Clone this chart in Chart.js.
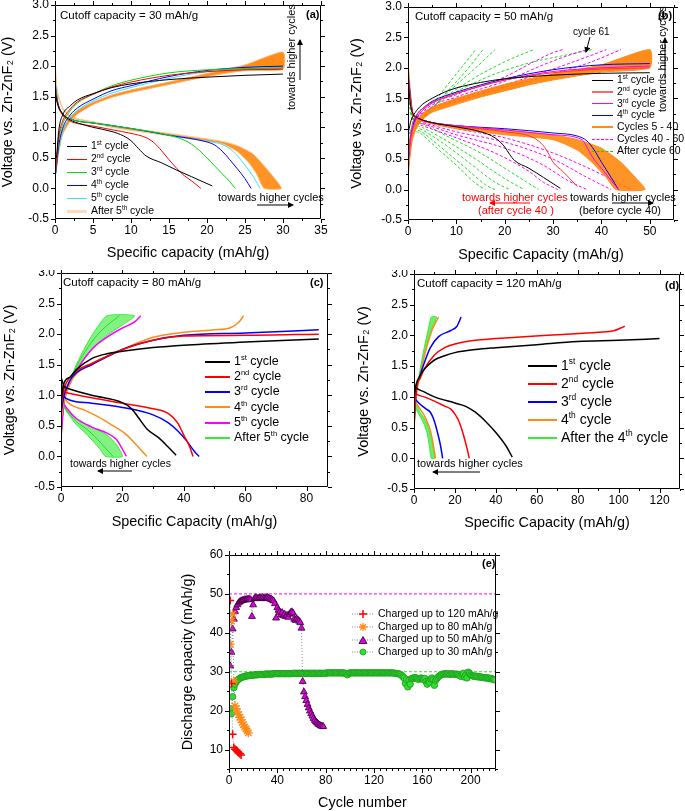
<!DOCTYPE html>
<html>
<head>
<meta charset="utf-8">
<script src="https://cdn.jsdelivr.net/npm/chart.js@4.4.1/dist/chart.umd.min.js"></script>
<style>
  body { margin: 0; background: #fff; font-family: "Liberation Sans", Arial, sans-serif; }
  #wrap { position: relative; width: 685px; height: 811px; overflow: hidden; }
  canvas { position: absolute; }
  .t { position: absolute; white-space: nowrap; font-size: 11px; line-height: 12px; color: #000; }
  .b { font-weight: bold; }
  .rot { transform: rotate(-90deg); transform-origin: center center; text-align: center; }
  .lg { position: absolute; white-space: nowrap; color: #000; }
  .lg div { display: block; }
  .lg i { display: inline-block; height: 0; margin-right: 4px; vertical-align: middle; }
  .lg svg { position: static; margin-right: 4px; vertical-align: middle; }
  sup { font-size: 0.6em; line-height: 0; vertical-align: 0.7em; }
  svg.arrows { position: absolute; left: 0; top: 0; }
</style>
</head>
<body>
<div id="wrap">
  <canvas id="ca" width="340" height="270" style="left:0;top:0"></canvas>
  <canvas id="cb" width="345" height="270" style="left:340px;top:0"></canvas>
  <canvas id="cc" width="340" height="270" style="left:0;top:270px"></canvas>
  <canvas id="cd" width="345" height="270" style="left:340px;top:270px"></canvas>
  <canvas id="ce" width="330" height="271" style="left:180px;top:540px"></canvas>

  <!-- panel (a) texts -->
  <div class="t" style="left:60px;top:9px;font-size:11.5px">Cutoff capacity = 30 mAh/g</div>
  <div class="t b" style="left:306px;top:8px">(a)</div>
  <div class="t" style="left:218px;top:191px">towards higher cycles</div>
  <div class="t rot" style="left:241px;top:54px;width:100px">towards higher cycles</div>
  <div class="lg" style="left:67px;top:139px;font-size:10.5px;line-height:13px">
    <div><i style="width:20px;border-top:1px solid #000"></i>1<sup>st</sup> cycle</div>
    <div><i style="width:20px;border-top:1px solid #ff0000"></i>2<sup>nd</sup> cycle</div>
    <div><i style="width:20px;border-top:1px solid #00dd00"></i>3<sup>rd</sup> cycle</div>
    <div><i style="width:20px;border-top:1px solid #0000ff"></i>4<sup>th</sup> cycle</div>
    <div><i style="width:20px;border-top:1px solid #33e6ff"></i>5<sup>th</sup> cycle</div>
    <div><i style="width:20px;border-top:3px solid #ffd9b8"></i>After 5<sup>th</sup> cycle</div>
  </div>

  <!-- panel (b) texts -->
  <div class="t" style="left:415px;top:10px;font-size:11.5px">Cutoff capacity = 50 mAh/g</div>
  <div class="t b" style="left:658px;top:9px">(b)</div>
  <div class="t" style="left:573px;top:26px;font-size:10px">cycle 61</div>
  <div class="t rot" style="left:612px;top:56px;width:100px">towards higher cycles</div>
  <div class="t" style="left:462px;top:191px;color:#ff0000">towards higher cycles</div>
  <div class="t" style="left:478px;top:204px;color:#ff0000">(after cycle 40 )</div>
  <div class="t" style="left:570px;top:191px">towards higher cycles</div>
  <div class="t" style="left:579px;top:204px">(before cycle 40)</div>
  <div class="lg" style="left:592px;top:74px;font-size:10.5px;line-height:11.8px">
    <div><i style="width:21px;border-top:1px solid #000"></i>1<sup>st</sup> cycle</div>
    <div><i style="width:21px;border-top:2px solid #ff6666"></i>2<sup>nd</sup> cycle</div>
    <div><i style="width:21px;border-top:1px solid #ff00ff"></i>3<sup>rd</sup> cycle</div>
    <div><i style="width:21px;border-top:1px solid #0000ff"></i>4<sup>th</sup> cycle</div>
    <div><i style="width:21px;border-top:2px solid #ff8c1a"></i>Cycles 5 - 40</div>
    <div><i style="width:21px;border-top:1px dashed #ff00ff"></i>Cycles 40 - 60</div>
    <div><i style="width:21px;border-top:1px dashed #00dd00"></i>After cycle 60</div>
  </div>

  <!-- panel (c) texts -->
  <div class="t" style="left:63px;top:276px;font-size:11.5px">Cutoff capacity = 80 mAh/g</div>
  <div class="t b" style="left:310px;top:276px">(c)</div>
  <div class="t" style="left:70px;top:457px;font-size:10.5px">towards higher cycles</div>
  <div class="lg" style="left:205px;top:354px;font-size:12.5px;line-height:15.2px">
    <div><i style="width:25px;border-top:2px solid #000"></i>1<sup>st</sup> cycle</div>
    <div><i style="width:25px;border-top:2px solid #ff0000"></i>2<sup>nd</sup> cycle</div>
    <div><i style="width:25px;border-top:2px solid #0000ff"></i>3<sup>rd</sup> cycle</div>
    <div><i style="width:25px;border-top:2px solid #ff8c1a"></i>4<sup>th</sup> cycle</div>
    <div><i style="width:25px;border-top:2px solid #ff00ff"></i>5<sup>th</sup> cycle</div>
    <div><i style="width:25px;border-top:2px solid #33ee33"></i>After 5<sup>th</sup> cycle</div>
  </div>

  <!-- panel (d) texts -->
  <div class="t" style="left:417px;top:277px;font-size:11.5px">Cutoff capacity = 120 mAh/g</div>
  <div class="t b" style="left:665px;top:279px">(d)</div>
  <div class="t" style="left:417px;top:457px">towards higher cycles</div>
  <div class="lg" style="left:528px;top:356px;font-size:14px;line-height:18px">
    <div><i style="width:29px;border-top:2px solid #000"></i>1<sup>st</sup> cycle</div>
    <div><i style="width:29px;border-top:2px solid #ff0000"></i>2<sup>nd</sup> cycle</div>
    <div><i style="width:29px;border-top:2px solid #0000ff"></i>3<sup>rd</sup> cycle</div>
    <div><i style="width:29px;border-top:2px solid #ff8c1a"></i>4<sup>th</sup> cycle</div>
    <div><i style="width:29px;border-top:2px solid #33ee33"></i>After the 4<sup>th</sup> cycle</div>
  </div>

  <!-- panel (e) texts -->
  <div class="t b" style="left:482px;top:557px">(e)</div>
  <div class="lg" style="left:352px;top:607px;font-size:10.5px;line-height:12.7px">
    <div><svg width="22" height="10"><line x1="0" y1="5" x2="22" y2="5" stroke="#888" stroke-dasharray="1,1.5"/><path d="M7 5h8M11 1v8" stroke="#ff0000" stroke-width="1.5"/></svg>Charged up to 120 mAh/g</div>
    <div><svg width="22" height="10"><line x1="0" y1="5" x2="22" y2="5" stroke="#888" stroke-dasharray="1,1.5"/><path d="M7 5h8M11 1v8M8 2l6 6M14 2l-6 6" stroke="#ff8c1a" stroke-width="1.3"/></svg>Charged up to 80 mAh/g</div>
    <div><svg width="22" height="10"><line x1="0" y1="5" x2="22" y2="5" stroke="#888" stroke-dasharray="1,1.5"/><path d="M11 1.5l4 7h-8z" fill="#e000e0" stroke="#220022" stroke-width="0.8"/></svg>Charged up to 50 mAh/g</div>
    <div><svg width="22" height="10"><line x1="0" y1="5" x2="22" y2="5" stroke="#888" stroke-dasharray="1,1.5"/><circle cx="11" cy="5" r="3" fill="#33dd33" stroke="#1a9a1a" stroke-width="0.8"/></svg>Charged up to 30 mAh/g</div>
  </div>

  <!-- annotation arrows -->
  <svg class="arrows" width="685" height="811">
    <defs>
      <marker id="ak" markerWidth="6" markerHeight="6" refX="5" refY="3" orient="auto" markerUnits="userSpaceOnUse"><path d="M0,0 L6,3 L0,6 z" fill="#000"/></marker>
      <marker id="ar" markerWidth="6" markerHeight="6" refX="5" refY="3" orient="auto" markerUnits="userSpaceOnUse"><path d="M0,0 L6,3 L0,6 z" fill="#ff0000"/></marker>
    </defs>
    <g stroke-width="1">
      <line x1="257" y1="205" x2="293" y2="205" stroke="#000" marker-end="url(#ak)"/>
      <line x1="300" y1="80" x2="300" y2="40" stroke="#000" marker-end="url(#ak)"/>
      <line x1="590" y1="37" x2="586" y2="52" stroke="#000" marker-end="url(#ak)"/>
      <line x1="665" y1="78" x2="665" y2="38" stroke="#000" marker-end="url(#ak)"/>
      <line x1="530" y1="203" x2="490" y2="203" stroke="#ff0000" marker-end="url(#ar)"/>
      <line x1="612" y1="203" x2="653" y2="203" stroke="#000" marker-end="url(#ak)"/>
      <line x1="132" y1="471" x2="98" y2="471" stroke="#000" marker-end="url(#ak)"/>
      <line x1="480" y1="472" x2="433" y2="472" stroke="#000" marker-end="url(#ak)"/>
    </g>
  </svg>
</div>

<script>
// ---- panel (a): cutoff 30 mAh/g, [capacity, voltage] ----
const aCharge1 = [[0.2,0.5],[0.5,0.95],[1,1.2],[2,1.35],[3,1.45],[5,1.55],[7.5,1.65],[10,1.71],[15,1.78],[20,1.82],[25,1.85],[30,1.87]];
const aCharge2 = [[0.1,0.3],[0.5,0.85],[1,1.1],[2,1.3],[3,1.42],[5,1.54],[7.5,1.66],[10,1.74],[15,1.85],[20,1.91],[25,1.94],[30,1.95]];
const aCharge3 = [[0.1,0.3],[0.5,0.8],[1,1.05],[2,1.27],[3,1.4],[5,1.54],[7.5,1.68],[10,1.77],[15,1.89],[20,1.94],[25,1.96],[30,1.97]];
const aCharge4 = [[0.1,0.25],[0.5,0.7],[1,0.98],[2,1.2],[3,1.32],[5,1.46],[7.5,1.6],[10,1.68],[15,1.83],[20,1.93],[25,1.98],[30,2.0]];
const aCharge5 = [[0.1,0.25],[0.5,0.65],[1,0.92],[2,1.15],[3,1.28],[5,1.43],[7.5,1.56],[10,1.65],[15,1.8],[20,1.91],[25,1.97],[30,1.99]];
const aChargeBandLow = [[0,0.15],[0.5,0.6],[1,0.88],[2,1.1],[3,1.22],[5,1.37],[7.5,1.49],[10,1.57],[15,1.7],[20,1.83],[25,1.93],[30,1.95]];
const aChargeBandHigh = [[0,0.3],[0.5,0.75],[1,0.98],[2,1.17],[3,1.28],[5,1.41],[7.5,1.53],[10,1.61],[15,1.74],[20,1.88],[25,2.02],[30,2.23]];
const aDis1 = [[0,1.6],[0.3,1.4],[1,1.22],[2,1.12],[3,1.07],[5,1.0],[7.5,0.93],[9,0.86],[10,0.78],[11,0.65],[12,0.53],[14,0.42],[16,0.3],[18,0.19],[20.7,0.04]];
const aDis2 = [[0,1.65],[0.3,1.4],[1,1.2],[2,1.1],[3,1.06],[5,1.02],[7.5,0.96],[10,0.9],[12,0.83],[13,0.75],[14,0.62],[15,0.47],[16,0.33],[17,0.21],[18,0.12],[19.2,0.0]];
const aDis3 = [[0,1.7],[0.3,1.42],[1,1.22],[2,1.14],[3,1.1],[5,1.07],[10,0.98],[15,0.87],[17,0.79],[18,0.72],[19,0.62],[20,0.5],[21,0.37],[22,0.24],[23,0.11],[23.7,0.0]];
const aDis4 = [[0,1.75],[0.3,1.45],[1,1.22],[2,1.14],[3,1.1],[5,1.07],[10,0.98],[15,0.87],[20,0.76],[21,0.71],[22,0.61],[23,0.47],[24,0.32],[25,0.16],[25.8,0.0]];
const aDis5 = [[0,1.8],[0.3,1.45],[1,1.22],[2,1.14],[3,1.1],[5,1.07],[10,0.98],[15,0.87],[20,0.77],[22,0.72],[23.5,0.6],[24.5,0.46],[25.5,0.3],[26.3,0.15],[27,0.0]];
const aDisBandLow = [[0,1.95],[0.3,1.55],[1,1.3],[2,1.17],[3,1.12],[5,1.07],[7.5,1.0],[10,0.95],[15,0.86],[20,0.77],[22,0.73],[24,0.6],[25.5,0.42],[26.5,0.24],[27.5,0.0]];
const aDisBandHigh = [[0,2.12],[0.3,1.6],[1,1.32],[2,1.19],[3,1.14],[5,1.09],[7.5,1.03],[10,0.98],[15,0.9],[20,0.81],[22,0.77],[24,0.7],[26,0.57],[28,0.3],[29.8,0.0]];

// ---- panel (b): cutoff 50 mAh/g ----
const bCharge1 = [[0,0.9],[0.5,1.1],[1,1.2],[2,1.32],[3,1.4],[5,1.5],[7.5,1.6],[10,1.67],[15,1.76],[20,1.82],[30,1.88],[40,1.91],[50,1.92]];
const bCharge2 = [[0,0.5],[0.5,0.9],[1,1.1],[2,1.25],[3,1.33],[5,1.43],[10,1.58],[15,1.7],[20,1.8],[30,1.92],[40,1.98],[50,2.0]];
const bCharge3 = [[0,0.4],[0.5,0.8],[1,1.0],[2,1.2],[3,1.3],[5,1.42],[10,1.58],[15,1.7],[20,1.8],[30,1.94],[40,2.0],[50,2.03]];
const bCharge4 = [[0,0.4],[0.5,0.85],[1,1.05],[2,1.25],[3,1.33],[5,1.45],[10,1.6],[15,1.72],[20,1.82],[30,1.97],[40,2.05],[50,2.07]];
const bDis1 = [[0,1.8],[0.5,1.4],[1,1.25],[2,1.18],[5,1.1],[10,1.03],[15,0.95],[18,0.85],[20,0.7],[21,0.58],[22,0.48],[25,0.35],[28,0.2],[31.5,0.02]];
const bDis2 = [[0,1.8],[1,1.25],[2,1.17],[5,1.1],[10,1.04],[20,0.95],[26,0.85],[28,0.72],[29,0.6],[30,0.45],[32,0.3],[35,0.05]];
const bDis3 = [[0,1.85],[1,1.25],[2,1.17],[5,1.1],[10,1.05],[20,0.98],[30,0.9],[36,0.82],[37,0.7],[38,0.55],[40,0.35],[42,0.15],[43.5,0.0]];
const bDis4 = [[0,1.9],[1,1.25],[2,1.17],[5,1.1],[10,1.05],[20,1.0],[30,0.93],[35,0.88],[37,0.8],[38.5,0.65],[40,0.45],[42,0.2],[43.5,0.0]];
const bChargeBandLow = [[0,0.2],[0.5,0.6],[1,0.85],[2,1.05],[3,1.15],[5,1.27],[10,1.4],[15,1.52],[20,1.62],[25,1.72],[30,1.8],[40,1.93],[50,2.0]];
const bChargeBandHigh = [[0,0.3],[0.5,0.8],[1,1.0],[2,1.15],[3,1.25],[5,1.35],[10,1.5],[15,1.62],[20,1.73],[25,1.82],[30,1.9],[40,2.05],[50,2.3]];
const bDisBandLow = [[0,1.7],[1,1.22],[2,1.15],[5,1.08],[10,1.0],[20,0.9],[30,0.82],[35,0.65],[38,0.45],[41,0.2],[43,0.0]];
const bDisBandHigh = [[0,2.1],[1,1.25],[2,1.17],[5,1.1],[10,1.05],[20,0.98],[30,0.9],[35,0.82],[40,0.68],[44,0.45],[47,0.2],[49,0.0]];
const bMagentaCharge = [
  [[0,0.3],[1,1.0],[3,1.25],[10,1.45],[20,1.68],[30,1.9],[38,2.1],[44,2.3]],
  [[0,0.3],[1,1.0],[3,1.25],[10,1.48],[20,1.72],[30,1.98],[36,2.15],[41,2.3]],
  [[0,0.3],[1,1.0],[3,1.27],[10,1.52],[20,1.78],[28,2.05],[33,2.2],[37,2.3]],
  [[0,0.3],[1,1.0],[3,1.3],[10,1.56],[20,1.85],[26,2.1],[30,2.25],[32,2.3]]
];
const bMagentaDis = [
  [[0,1.9],[1,1.25],[3,1.12],[10,1.0],[20,0.85],[30,0.6],[40,0.25],[46,0.0]],
  [[0,1.9],[1,1.22],[3,1.1],[10,0.95],[20,0.78],[30,0.5],[37,0.2],[42,0.0]],
  [[0,1.9],[1,1.2],[3,1.08],[10,0.9],[20,0.68],[28,0.4],[33,0.15],[37,0.0]],
  [[0,1.9],[1,1.2],[3,1.05],[10,0.85],[18,0.6],[25,0.3],[28,0.12],[31,0.0]]
];
const bGreenCharge = [
  [[0,0.9],[1,1.02],[5,1.35],[15,1.8],[25,2.08],[32,2.2],[38,2.3]],
  [[0,0.9],[1,1.0],[4,1.28],[12,1.75],[20,2.1],[26,2.3]],
  [[0,0.9],[1,1.0],[3,1.18],[9,1.65],[14,2.0],[18,2.3]],
  [[0,0.9],[1,1.0],[3,1.15],[8,1.6],[12,1.95],[15.5,2.3]],
  [[0,0.9],[1,1.0],[3,1.15],[7,1.6],[11,2.0],[14,2.3]]
];
const bGreenDis = [
  [[0,1.6],[1,1.18],[3,1.08],[8,0.88],[15,0.6],[21,0.3],[27,0.0]],
  [[0,1.6],[1,1.15],[3,1.02],[8,0.8],[14,0.5],[20,0.18],[24,0.0]],
  [[0,1.6],[1,1.12],[3,0.98],[8,0.72],[13,0.42],[18,0.12],[21,0.0]],
  [[0,1.6],[1,1.1],[3,0.94],[7,0.68],[12,0.35],[16,0.08],[18,0.0]],
  [[0,1.6],[1,1.08],[3,0.9],[6,0.68],[10,0.4],[14,0.1],[16,0.0]]
];

// ---- panel (c): cutoff 80 mAh/g ----
const cCharge1 = [[0,0.9],[1,1.2],[3,1.3],[5,1.42],[10,1.6],[15,1.68],[20,1.72],[30,1.78],[40,1.82],[60,1.87],[84,1.92]];
const cCharge2 = [[0,0.8],[1,1.1],[3,1.3],[5,1.4],[10,1.52],[20,1.75],[30,1.9],[40,1.97],[60,1.98],[84,2.0]];
const cCharge3 = [[0,0.7],[1,1.0],[3,1.25],[5,1.37],[10,1.5],[20,1.75],[30,1.9],[40,1.98],[60,2.02],[84,2.07]];
const cCharge4 = [[0,0.6],[1,0.9],[3,1.2],[5,1.35],[10,1.5],[20,1.75],[30,1.95],[40,2.03],[50,2.07],[55,2.1],[58,2.2],[59.5,2.3]];
const cCharge5 = [[0,0.3],[1,0.9],[3,1.2],[5,1.4],[10,1.75],[15,1.95],[20,2.1],[24,2.2],[26,2.3]];
const cDis1 = [[0,1.3],[1,1.15],[3,1.1],[10,1.0],[20,0.88],[23,0.78],[25,0.65],[28,0.45],[32,0.3],[35,0.15],[37.5,0.02]];
const cDis2 = [[0,1.2],[1,1.07],[3,1.03],[10,0.96],[20,0.87],[30,0.78],[35,0.7],[38,0.55],[40,0.35],[42,0.15],[43,0.0]];
const cDis3 = [[0,1.1],[1,0.98],[3,0.92],[10,0.87],[20,0.8],[30,0.68],[35,0.55],[38,0.42],[41,0.25],[43.5,0.08],[45,0.0]];
const cDis4 = [[0,1.0],[1,0.95],[3,0.85],[8,0.75],[12,0.65],[17,0.5],[21,0.37],[24,0.22],[26.5,0.08],[28,0.0]];
const cDis5 = [[0,0.95],[1,0.85],[3,0.72],[5,0.62],[10,0.48],[15,0.38],[18,0.28],[20,0.12],[21.3,0.0]];
const cFanChargeSteep = [[0,0.3],[1,0.9],[3,1.25],[5,1.5],[8,1.8],[11,2.05],[15,2.3]];
const cFanChargeMid = [[0,0.3],[1,0.9],[3,1.22],[5,1.46],[9,1.8],[13,2.05],[19,2.3]];
const cFanChargeFlat = [[0,0.3],[1,0.9],[3,1.2],[5,1.42],[10,1.75],[15,1.98],[20,2.15],[24,2.3]];
const cFanDisLong = [[0,0.95],[1,0.85],[3,0.72],[5,0.62],[10,0.48],[15,0.35],[18,0.2],[20,0.0]];
const cFanDisMid = [[0,0.95],[1,0.82],[3,0.68],[5,0.57],[9,0.42],[13,0.22],[15.5,0.08],[17,0.0]];
const cFanDisShort = [[0,0.95],[1,0.8],[3,0.65],[5,0.52],[8,0.38],[11,0.22],[13,0.1],[14.5,0.0]];

// ---- panel (d): cutoff 120 mAh/g ----
const dCharge1 = [[0,1.0],[1,1.2],[3,1.35],[5,1.45],[10,1.6],[15,1.67],[20,1.72],[30,1.77],[40,1.8],[60,1.85],[80,1.9],[100,1.92],[120,1.95]];
const dCharge2 = [[0,0.5],[1,1.1],[3,1.3],[5,1.45],[10,1.68],[15,1.8],[20,1.86],[30,1.92],[50,1.97],[70,2.01],[90,2.05],[98,2.08],[101,2.12],[103,2.15]];
const dCharge3 = [[0,0.6],[1,1.1],[3,1.35],[5,1.55],[8,1.8],[12,1.98],[18,2.08],[21,2.15],[22,2.22],[23,2.3]];
const dCharge4 = [[0,0.5],[1,1.0],[3,1.35],[5,1.65],[7,1.9],[9,2.1],[12,2.3]];
const dDis1 = [[0,1.2],[1,1.15],[5,1.08],[10,1.0],[20,0.9],[25,0.85],[30,0.75],[35,0.6],[40,0.42],[45,0.2],[48,0.02]];
const dDis2 = [[0,1.1],[1,1.05],[5,1.0],[10,0.93],[15,0.85],[18,0.8],[20,0.72],[22,0.6],[24,0.4],[26,0.15],[27,0.0]];
const dDis3 = [[0,1.0],[1,0.95],[3,0.88],[6,0.8],[8,0.75],[10,0.6],[12,0.35],[13,0.2],[14,0.0]];
const dDis4 = [[0,0.95],[1,0.9],[3,0.8],[5,0.7],[7,0.55],[8,0.45],[9,0.3],[10,0.1],[10.5,0.0]];
const dFanChargeSteep = [[0,0.5],[1,1.0],[3,1.45],[5,1.8],[7,2.1],[8.5,2.3]];
const dFanChargeFlat = [[0,0.5],[1,1.0],[3,1.38],[5,1.7],[8,2.05],[11,2.3]];
const dFanDisLong = [[0,0.95],[1,0.88],[3,0.75],[5,0.65],[7,0.5],[9,0.25],[10,0.0]];
const dFanDisShort = [[0,0.9],[1,0.8],[3,0.68],[5,0.55],[6.5,0.4],[7.5,0.2],[8.5,0.0]];

// ---- panel (e): discharge capacity (mAh/g) per cycle, starting at cycle 1 ----
const eCap120 = [48.3, 27.0, 13.9, 10.5, 10.1, 9.8, 9.5, 9.2, 8.9, 8.6];
const eCap80 = [37.1, 43.0, 44.8, 27.6, 21.2, 20.5, 19.7, 19.0, 18.3, 17.6, 17.0, 16.4, 15.8, 15.3, 14.8, 14.3];
const eCap50 = [31.5, 35.0, 41.0, 43.5, 45.5, 46.5, 47.2, 47.7, 48.0, 48.2, 48.3, 48.4, 48.5, 48.5, 48.6, 48.6, 48.6, 48.5, 44.2, 47.2,
  48.8, 49.0, 48.9, 48.8, 49.0, 48.9, 48.8, 49.1, 48.9, 48.8, 49.0, 49.1, 48.9, 48.7, 48.6, 48.4, 48.2, 47.5, 43.8, 46.5,
  45.8, 45.3, 44.6, 45.2, 44.4, 44.8, 44.2, 44.5, 44.0, 44.8, 45.2, 45.4, 45.1, 43.5, 43.2, 43.6, 43.3, 43.0, 42.6, 41.2,
  27.5, 24.8, 23.6, 22.6, 21.6, 20.7, 19.9, 19.2, 18.6, 18.0, 17.5, 17.1, 16.8, 16.5, 16.3, 16.1, 16.0, 15.9];
const eCap30 = [20.5, 19.2, 23.6, 25.9, 26.8, 27.4, 27.8, 28.1, 28.3, 28.5,
  28.6, 28.7, 28.8, 28.9, 28.9, 29.0, 29.0, 29.1, 29.1, 29.1,
  29.2, 29.2, 29.2, 29.2, 29.3, 29.3, 29.3, 29.3, 29.3, 29.4,
  29.4, 29.4, 29.4, 29.4, 29.4, 29.4, 29.5, 29.5, 29.5, 29.5,
  29.5, 29.5, 29.5, 29.5, 29.5, 29.5, 29.5, 29.5, 29.5, 29.5,
  29.5, 29.5, 29.6, 29.6, 29.6, 29.6, 29.6, 29.6, 29.6, 29.6,
  29.6, 29.6, 29.6, 29.6, 29.6, 29.6, 29.6, 29.6, 29.6, 29.6,
  29.6, 29.6, 29.6, 29.6, 29.6, 29.6, 29.6, 29.6, 29.6, 29.6,
  29.7, 29.7, 29.7, 29.7, 29.7, 29.7, 29.7, 29.7, 29.7, 29.7,
  29.7, 29.7, 29.7, 29.7, 29.7, 29.6, 29.5, 29.2, 29.6, 29.7,
  29.7, 29.7, 29.7, 29.7, 29.7, 29.7, 29.7, 29.7, 29.7, 29.7,
  29.7, 29.7, 29.7, 29.7, 29.7, 29.7, 29.7, 29.7, 29.7, 29.7,
  29.7, 29.7, 29.7, 29.7, 29.7, 29.7, 29.7, 29.7, 29.7, 29.7,
  29.7, 29.7, 29.7, 29.7, 29.7, 29.7, 29.6, 29.6, 29.5, 29.5,
  29.4, 29.3, 29.0, 28.7, 28.4, 27.0, 28.0, 26.1, 27.8, 26.8,
  28.2, 28.4, 28.3, 28.5, 28.4, 28.2, 28.0, 28.3, 28.4, 28.2,
  28.0, 28.3, 27.5, 26.8, 27.6, 27.3, 28.1, 28.4, 28.0, 26.5,
  27.8, 28.2, 28.6, 28.9, 29.1, 29.3, 29.4, 29.4, 29.5, 29.4,
  29.4, 29.5, 29.3, 29.4, 29.5, 29.4, 29.3, 29.4, 29.3, 29.2,
  29.0, 28.8, 29.3, 29.6, 28.6, 29.1, 28.4, 29.9, 29.6, 29.2,
  29.0, 28.9, 28.8, 28.9, 28.7, 28.8, 28.6, 28.7, 28.6, 28.5,
  28.5, 28.4, 28.5, 28.3, 28.4, 28.2, 28.3, 28.1, 28.0, 27.9];
const eCutoffs = [50, 30];

Chart.defaults.font.family = '"Liberation Sans", Arial, sans-serif';
Chart.defaults.color = '#000';

const FONT_TITLE = { size: 14.4, lineHeight: 1 };
const TICK_FONT = '12px "Liberation Sans", Arial, sans-serif';

const pts = arr => arr.map(([x, y]) => ({ x, y }));

function curve(arr, color, width, extra) {
    return Object.assign({
        data: pts(arr), borderColor: color, borderWidth: width || 1,
        pointRadius: 0, showLine: true, fill: false,
        cubicInterpolationMode: 'monotone'
    }, extra || {});
}

// closed region between two curves, lower edge then upper edge reversed
function band(lower, upper, fillColor, edgeColor) {
    return {
        data: pts(lower.concat(upper.slice().reverse())),
        borderColor: edgeColor, backgroundColor: fillColor, borderWidth: 1,
        pointRadius: 0, showLine: true, fill: 'shape', tension: 0.2
    };
}

const isStep = (v, step) => Math.abs(v / step - Math.round(v / step)) < 1e-6;

// multiples of step inside the scale range
function stepValues(scale, step) {
    const out = [];
    const first = Math.ceil(scale.min / step - 1e-6);
    const last = Math.floor(scale.max / step + 1e-6);
    for (let k = first; k <= last; k++) out.push(Math.round(k * step * 1000) / 1000);
    return out;
}

// box around the plot, outward major/minor ticks on all four sides, tick labels left and bottom
const framePlugin = {
    id: 'frame',
    afterDraw(chart, args, o) {
        const { ctx, chartArea: a } = chart;
        const xs = chart.scales.x, ys = chart.scales.y;
        ctx.save();
        ctx.strokeStyle = '#000';
        ctx.lineWidth = 1;
        ctx.beginPath();
        ctx.rect(a.left + 0.5, a.top + 0.5, a.right - a.left - 1, a.bottom - a.top - 1);
        const nx = Math.floor((xs.max - xs.min) / o.xMinor + 1e-6);
        for (let i = 0; i <= nx; i++) {
            const v = xs.min + i * o.xMinor;
            const len = isStep(v, o.xMajor) ? 4 : 2;
            const p = Math.round(xs.getPixelForValue(v)) + 0.5;
            ctx.moveTo(p, a.bottom); ctx.lineTo(p, a.bottom + len);
            ctx.moveTo(p, a.top); ctx.lineTo(p, a.top - len);
        }
        const ny = Math.floor((ys.max - ys.min) / o.yMinor + 1e-6);
        for (let i = 0; i <= ny; i++) {
            const v = ys.min + i * o.yMinor;
            const len = isStep(v, o.yMajor) ? 4 : 2;
            const p = Math.round(ys.getPixelForValue(v)) + 0.5;
            ctx.moveTo(a.left, p); ctx.lineTo(a.left - len, p);
            ctx.moveTo(a.right, p); ctx.lineTo(a.right + len, p);
        }
        ctx.stroke();

        ctx.fillStyle = '#000';
        ctx.font = TICK_FONT;
        ctx.textAlign = 'center';
        ctx.textBaseline = 'middle';
        stepValues(xs, o.xMajor).forEach(v => ctx.fillText(String(v), xs.getPixelForValue(v), a.bottom + 12));
        ctx.textAlign = 'right';
        stepValues(ys, o.yMajor).forEach(v => ctx.fillText(o.yFmt(v), a.left - 6, ys.getPixelForValue(v)));
        ctx.restore();
    }
};

function panel(id, p) {
    return new Chart(document.getElementById(id), {
        type: 'scatter',
        data: { datasets: p.datasets },
        options: {
            responsive: false,
            animation: false,
            events: [],
            layout: { padding: { top: p.top, right: p.right, left: 0, bottom: 0 } },
            plugins: {
                legend: { display: false },
                tooltip: { enabled: false },
                frame: { xMajor: p.xStep, xMinor: p.xMinor, yMajor: p.yStep, yMinor: p.yMinor, yFmt: p.yFmt || (v => String(v)) }
            },
            scales: {
                x: {
                    type: 'linear', min: p.xMin, max: p.xMax,
                    grid: { display: false, drawTicks: false },
                    border: { display: false },
                    ticks: { display: false },
                    afterFit: s => { s.height = p.xh; },
                    title: { display: true, text: p.xTitle, font: FONT_TITLE, padding: { top: 0, bottom: p.xPad } }
                },
                y: {
                    type: 'linear', min: p.yMin, max: p.yMax,
                    grid: { display: false, drawTicks: false },
                    border: { display: false },
                    ticks: { display: false },
                    afterFit: s => { s.width = p.yw; },
                    title: { display: true, text: p.yTitle, font: FONT_TITLE, padding: { top: p.yPad, bottom: 0 } }
                }
            }
        },
        plugins: [framePlugin]
    });
}

const VOLT = 'Voltage vs. Zn-ZnF\u2082 (V)';
const voltAxis = { yMin: -0.5, yMax: 3.0, yStep: 0.5, yMinor: 0.25, yFmt: v => v.toFixed(1), yTitle: VOLT };
const ORANGE = '#ff8c1a';
const dashed = { borderDash: [3, 2] };

// (a)
panel('ca', Object.assign({
    top: 5, right: 19, yw: 55, xh: 51, xPad: 9.5, yPad: 1,
    xMin: 0, xMax: 35, xStep: 5, xMinor: 2.5, xTitle: 'Specific capacity (mAh/g)',
    datasets: [
        curve(aCharge1, '#000'), curve(aDis1, '#000'),
        curve(aCharge2, '#ff0000'), curve(aDis2, '#ff0000'),
        curve(aCharge3, '#00dd00'), curve(aDis3, '#00dd00'),
        curve(aCharge4, '#0000ff'), curve(aDis4, '#0000ff'),
        curve(aCharge5, '#33e6ff'), curve(aDis5, '#33e6ff'),
        band(aChargeBandLow, aChargeBandHigh, 'rgba(255,128,0,0.9)', '#ffb066'),
        band(aDisBandLow, aDisBandHigh, 'rgba(255,128,0,0.85)', '#ffc58a')
    ]
}, voltAxis));

// (b)
panel('cb', Object.assign({
    top: 7, right: 11, yw: 68, xh: 50, xPad: 7.5, yPad: 9.5,
    xMin: 0, xMax: 55, xStep: 10, xMinor: 5, xTitle: 'Specific Capacity (mAh/g)',
    datasets: [
        curve(bCharge1, '#000'), curve(bDis1, '#000'),
        curve(bCharge2, '#ff3333'), curve(bDis2, '#ff3333'),
        curve(bCharge3, '#ff00ff'), curve(bDis3, '#ff00ff'),
        curve(bCharge4, '#0000ff'), curve(bDis4, '#0000ff'),
        band(bChargeBandLow, bChargeBandHigh, 'rgba(255,128,0,0.9)', ORANGE),
        band(bDisBandLow, bDisBandHigh, 'rgba(255,128,0,0.85)', ORANGE),
        ...bMagentaCharge.map(c => curve(c, '#ff00ff', 1, dashed)),
        ...bMagentaDis.map(c => curve(c, '#ff00ff', 1, dashed)),
        ...bGreenCharge.map(c => curve(c, '#22dd22', 1, dashed)),
        ...bGreenDis.map(c => curve(c, '#22dd22', 1, dashed))
    ]
}, voltAxis));

// (c)
panel('cc', Object.assign({
    top: 3, right: 12, yw: 61, xh: 53, xPad: 10.5, yPad: 2.5,
    xMin: 0, xMax: 87, xStep: 20, xMinor: 10, xTitle: 'Specific Capacity (mAh/g)',
    datasets: [
        curve(cCharge1, '#000', 1.5), curve(cDis1, '#000', 1.5),
        curve(cCharge2, '#ff0000', 1.5), curve(cDis2, '#ff0000', 1.5),
        curve(cCharge3, '#0000ff', 1.5), curve(cDis3, '#0000ff', 1.5),
        curve(cCharge4, ORANGE, 1.5), curve(cDis4, ORANGE, 1.5),
        curve(cCharge5, '#ff00ff', 1.5), curve(cDis5, '#ff00ff', 1.5),
        curve(cFanChargeMid, '#22dd22'), curve(cFanDisMid, '#22dd22'),
        band(cFanChargeSteep, cFanChargeFlat, 'rgba(80,235,80,0.7)', '#33ee33'),
        band(cFanDisShort, cFanDisLong, 'rgba(80,235,80,0.7)', '#33ee33')
    ]
}, voltAxis));

// (d)
panel('cd', Object.assign({
    top: 4, right: 5, yw: 74, xh: 51, xPad: 9.5, yPad: 16.5,
    xMin: 0, xMax: 130, xStep: 20, xMinor: 10, xTitle: 'Specific Capacity (mAh/g)',
    datasets: [
        curve(dCharge1, '#000', 1.5), curve(dDis1, '#000', 1.5),
        curve(dCharge2, '#ff0000', 1.5), curve(dDis2, '#ff0000', 1.5),
        curve(dCharge3, '#0000ff', 1.5), curve(dDis3, '#0000ff', 1.5),
        curve(dCharge4, ORANGE, 1.5), curve(dDis4, ORANGE, 1.5),
        band(dFanChargeSteep, dFanChargeFlat, 'rgba(60,230,60,0.75)', '#33ee33'),
        band(dFanDisShort, dFanDisLong, 'rgba(60,230,60,0.75)', '#33ee33')
    ]
}, voltAxis));

// (e)
const cycles = arr => arr.map((v, i) => ({ x: i + 1, y: v }));
const dotted = { showLine: true, borderColor: '#888', borderWidth: 1, borderDash: [1, 2] };
panel('ce', {
    top: 15, right: 14, yw: 49, xh: 42, xPad: 0.5, yPad: 0.5,
    xMin: 0, xMax: 221, xStep: 40, xMinor: 5, xTitle: 'Cycle number',
    yMin: 5, yMax: 60, yStep: 10, yMinor: 5, yTitle: 'Discharge capacity (mAh/g)',
    datasets: [
        Object.assign({ data: cycles(eCap120), pointStyle: 'cross', pointRadius: 4, pointBorderColor: '#ff0000', pointBorderWidth: 1.5 }, dotted),
        Object.assign({ data: cycles(eCap80), pointStyle: 'star', pointRadius: 4.5, pointBorderColor: ORANGE, pointBorderWidth: 1.3 }, dotted),
        Object.assign({ data: cycles(eCap50), pointStyle: 'triangle', pointRadius: 4, pointBackgroundColor: '#e000e0', pointBorderColor: '#330033', pointBorderWidth: 0.8 }, dotted),
        Object.assign({ data: cycles(eCap30), pointStyle: 'circle', pointRadius: 3.2, pointBackgroundColor: '#33dd33', pointBorderColor: '#1a9a1a', pointBorderWidth: 0.8 }, dotted),
        ...eCutoffs.map((c, i) => ({
            data: [{ x: 0, y: c }, { x: 221, y: c }], showLine: true, pointRadius: 0,
            borderColor: i === 0 ? '#ff00ff' : '#33dd33', borderWidth: 1, borderDash: [3, 2]
        }))
    ]
});
</script>
</body>
</html>
